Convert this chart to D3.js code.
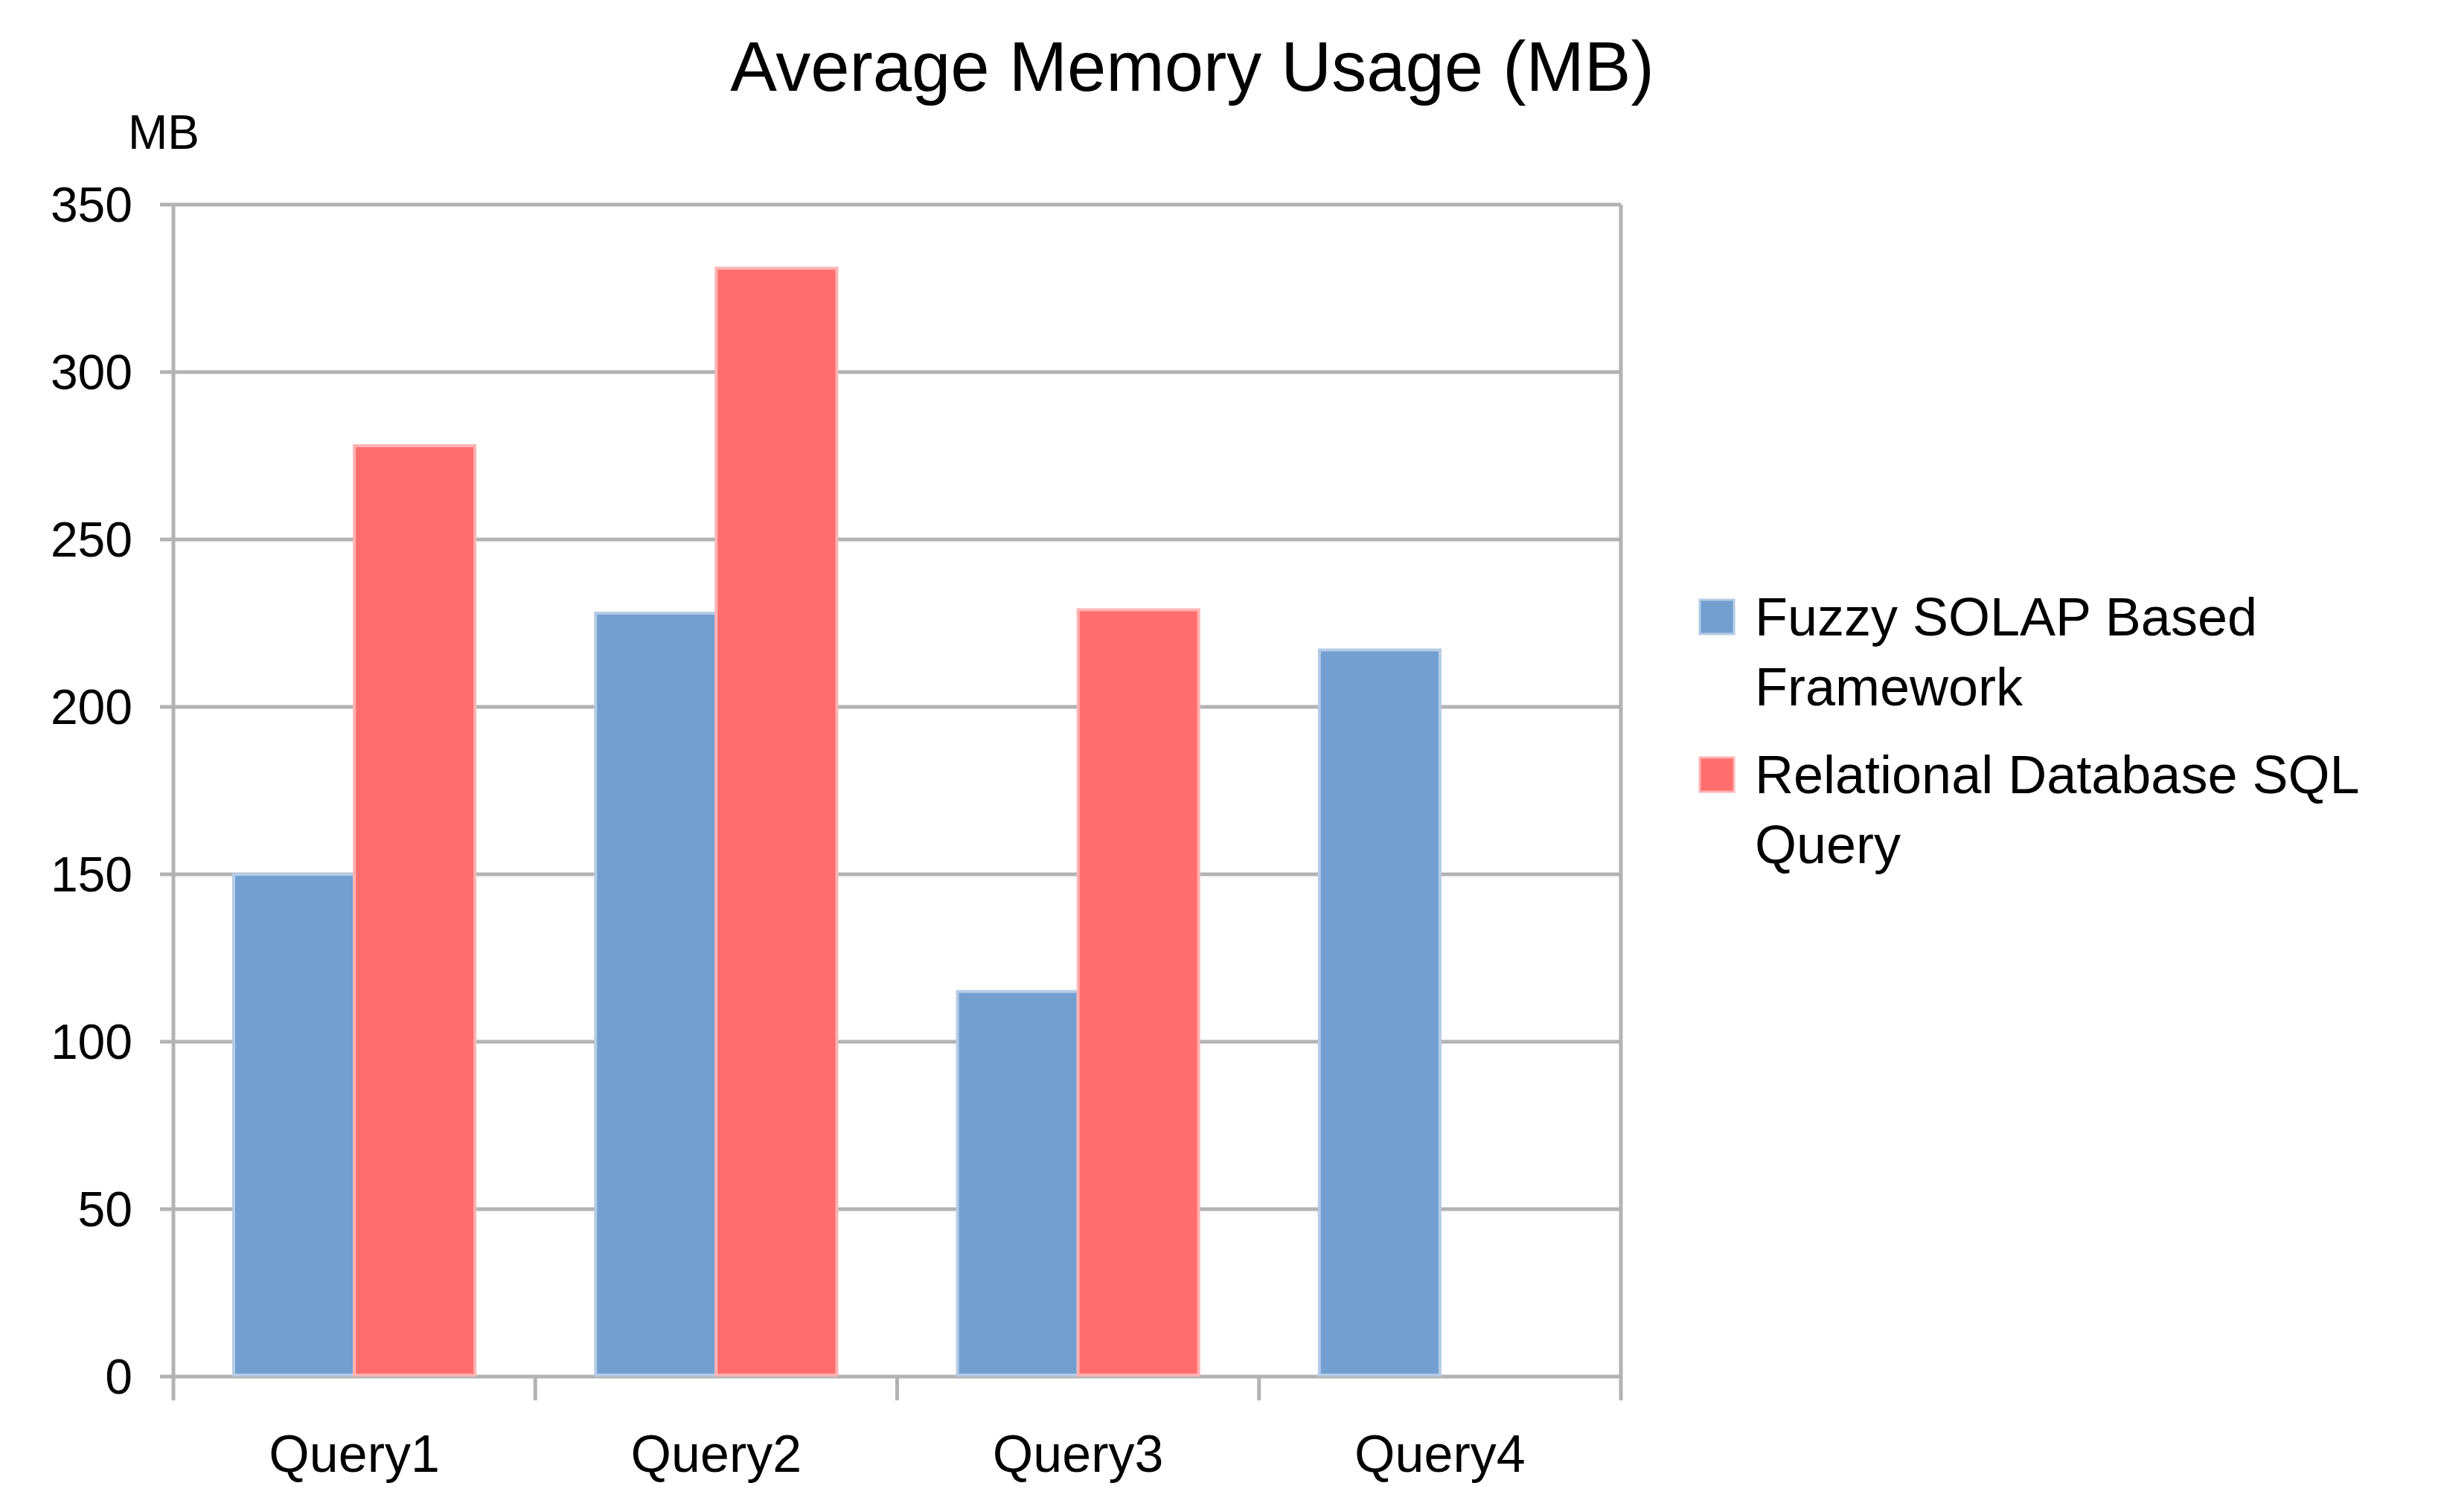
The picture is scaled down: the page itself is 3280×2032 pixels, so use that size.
<!DOCTYPE html>
<html><head><meta charset="utf-8">
<script src="https://cdn.jsdelivr.net/npm/d3@7"></script>
<style>body{margin:0;background:#fff;font-family:"Liberation Sans",Arial,sans-serif;}</style>
</head><body><svg id="chart" width="3280" height="2032"></svg>
<script>
var categories = ["Query1", "Query2", "Query3", "Query4"];
var seriesNames = ["Fuzzy SOLAP Based Framework", "Relational Database SQL Query"];
var fuzzyValues = [150, 228, 115, 217];
var sqlValues = [278, 331, 229, null];
var yTicks = [0, 50, 100, 150, 200, 250, 300, 350];
var colors = ["#729fcf", "#ff6d6d"];
var edgeColors = ["#b4cbe6", "#ffb3b3"];

var svg = d3.select('#chart');
var m = {left: 233, right: 2178, top: 275, bottom: 1850};

var x = d3.scaleBand().domain(categories).range([m.left, m.right]).paddingInner(0).paddingOuter(0);
var x1 = d3.scaleBand().domain([0, 1]).range([0, x.bandwidth()]).paddingOuter(0.5).paddingInner(0);
var y = d3.scaleLinear().domain([0, 350]).range([m.bottom, m.top]);

// grid
svg.append('g').selectAll('line').data(yTicks).enter().append('line')
	.attr('x1', m.left - 18).attr('x2', m.right)
	.attr('y1', d => y(d)).attr('y2', d => y(d))
	.attr('stroke', '#b3b3b3').attr('stroke-width', 5);
svg.append('line').attr('x1', m.left).attr('x2', m.left).attr('y1', m.top).attr('y2', m.bottom + 32)
	.attr('stroke', '#b3b3b3').attr('stroke-width', 5);
svg.append('line').attr('x1', m.right).attr('x2', m.right).attr('y1', m.top).attr('y2', m.bottom + 32)
	.attr('stroke', '#b3b3b3').attr('stroke-width', 5);
categories.slice(1).forEach(function(c) {
	svg.append('line').attr('x1', x(c)).attr('x2', x(c)).attr('y1', m.bottom).attr('y2', m.bottom + 32)
		.attr('stroke', '#b3b3b3').attr('stroke-width', 5);
});

// bars
[fuzzyValues, sqlValues].forEach(function(vals, s) {
	svg.append('g').selectAll('rect').data(vals.map((v, i) => ({v: v, c: categories[i]})).filter(d => d.v !== null))
		.enter().append('rect')
		.attr('x', d => x(d.c) + x1(s))
		.attr('width', x1.bandwidth())
		.attr('y', d => y(d.v))
		.attr('height', d => y(0) - y(d.v) - 2)
		.attr('fill', colors[s])
		.attr('stroke', edgeColors[s]).attr('stroke-width', 4);
});

// y tick labels
svg.append('g').selectAll('text').data(yTicks).enter().append('text')
	.attr('x', 178).attr('y', d => y(d)).attr('dy', '0.35em')
	.attr('text-anchor', 'end').attr('font-size', 66).attr('fill', '#000')
	.text(d => d);

// x labels
svg.append('g').selectAll('text').data(categories).enter().append('text')
	.attr('x', d => x(d) + x.bandwidth() / 2).attr('y', 1978)
	.attr('text-anchor', 'middle').attr('font-size', 70).attr('fill', '#000')
	.text(d => d);

svg.append('text').attr('x', 1602).attr('y', 122).attr('text-anchor', 'middle')
	.attr('font-size', 94).text('Average Memory Usage (MB)');
svg.append('text').attr('x', 220).attr('y', 200).attr('text-anchor', 'middle')
	.attr('font-size', 64).text('MB');

// legend
var legendLines = [["Fuzzy SOLAP Based", "Framework"], ["Relational Database SQL", "Query"]];
legendLines.forEach(function(lines, i) {
	var top = 806 + i * 212;
	svg.append('rect').attr('x', 2284).attr('y', top).attr('width', 46).attr('height', 46)
		.attr('fill', colors[i]).attr('stroke', edgeColors[i]).attr('stroke-width', 3);
	lines.forEach(function(t, j) {
		svg.append('text').attr('x', 2358).attr('y', top + 23 + j * 94).attr('dy', '0.35em')
			.attr('font-size', 72).text(t);
	});
});
</script></body></html>
